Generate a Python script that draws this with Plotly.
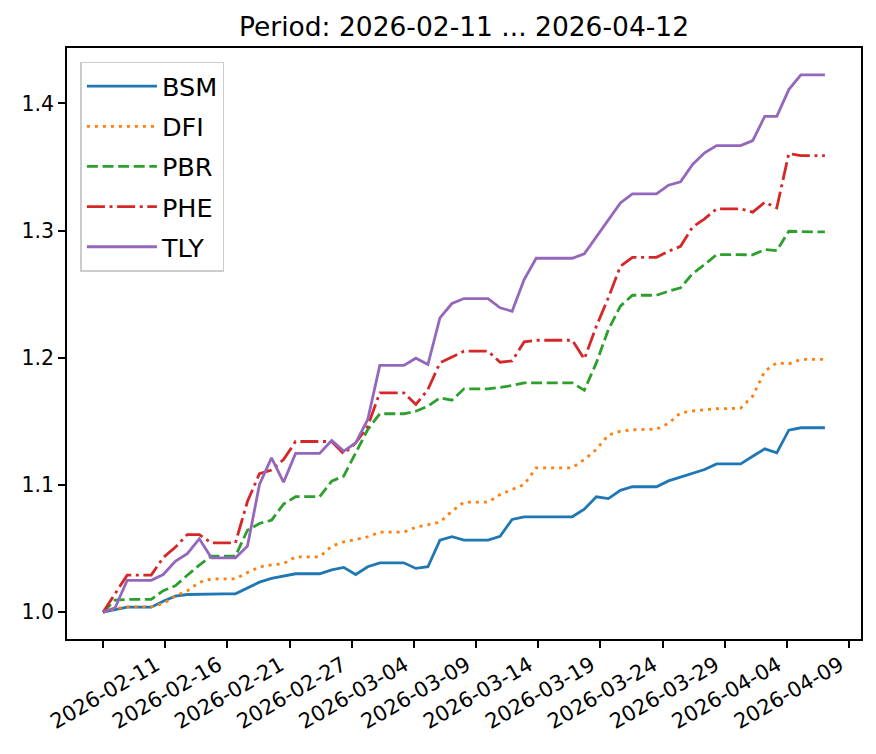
import datetime as dt
import pandas as pd
import plotly.graph_objects as go

# ---- data ----
dates = pd.date_range("2026-02-11", "2026-04-12", freq="D")

BSM = [1.000, 1.0019, 1.0039, 1.0039, 1.0039, 1.0086, 1.0126, 1.0139, 1.0142, 1.0144,
       1.0144, 1.0144, 1.0192, 1.0236, 1.0265, 1.0283, 1.0302, 1.0302, 1.0302, 1.0333,
       1.0352, 1.0296, 1.0357, 1.0388, 1.0388, 1.0388, 1.0344, 1.0357, 1.0566, 1.0593,
       1.0566, 1.0566, 1.0566, 1.0597, 1.0729, 1.075, 1.075, 1.075, 1.075, 1.075,
       1.081, 1.0907, 1.0893, 1.0958, 1.0986, 1.0986, 1.0986, 1.1032, 1.1062, 1.1089,
       1.1122, 1.1166, 1.1166, 1.1166, 1.1226, 1.1284, 1.1253, 1.1431, 1.145, 1.145, 1.145]

DFI = [1.000, 1.0027, 1.0041, 1.0041, 1.0041, 1.0068, 1.0126, 1.0168, 1.0234, 1.0262,
       1.0262, 1.0262, 1.0312, 1.0356, 1.0371, 1.0382, 1.0435, 1.0435, 1.0435, 1.0519,
       1.0553, 1.0571, 1.0593, 1.0629, 1.0629, 1.0629, 1.0668, 1.0689, 1.0708, 1.0794,
       1.0865, 1.0865, 1.0865, 1.0925, 1.0965, 1.1004, 1.1135, 1.1135, 1.1135, 1.1135,
       1.120, 1.1279, 1.1393, 1.1423, 1.1434, 1.1436, 1.1439, 1.1485, 1.1567, 1.1582,
       1.1589, 1.1600, 1.1600, 1.1605, 1.1699, 1.1895, 1.196, 1.1952, 1.1987, 1.1987, 1.1987]

PBR = [1.000, 1.0095, 1.010, 1.010, 1.010, 1.0169, 1.0207, 1.029, 1.037, 1.044,
       1.044, 1.044, 1.0645, 1.0697, 1.0723, 1.085, 1.0908, 1.0908, 1.0908, 1.103,
       1.107, 1.1253, 1.1436, 1.156, 1.156, 1.156, 1.158, 1.162, 1.1685, 1.1667,
       1.1756, 1.1756, 1.1756, 1.1767, 1.1782, 1.1803, 1.1803, 1.1803, 1.1803, 1.1803,
       1.1745, 1.196, 1.2222, 1.2406, 1.2492, 1.2492, 1.2492, 1.2524, 1.255, 1.2662,
       1.2733, 1.2812, 1.2812, 1.2812, 1.281, 1.2851, 1.2843, 1.2995, 1.299, 1.299, 1.299]

PHE = [1.000, 1.0145, 1.0291, 1.0291, 1.0291, 1.043, 1.051, 1.061, 1.061, 1.0545,
       1.0545, 1.0545, 1.087, 1.109, 1.1118, 1.120, 1.1342, 1.1342, 1.1342, 1.1342,
       1.1245, 1.1331, 1.1462, 1.1725, 1.1725, 1.1725, 1.1633, 1.175, 1.196, 1.2008,
       1.2052, 1.2052, 1.2052, 1.1965, 1.1975, 1.2125, 1.2138, 1.2138, 1.2138, 1.2138,
       1.199, 1.2248, 1.2472, 1.272, 1.279, 1.279, 1.279, 1.2838, 1.2877, 1.3028,
       1.3093, 1.3171, 1.3171, 1.3171, 1.3145, 1.3223, 1.3179, 1.3606, 1.359, 1.359, 1.359]

TLY = [1.000, 1.0035, 1.025, 1.025, 1.025, 1.0296, 1.040, 1.046, 1.0577, 1.0427,
       1.0427, 1.0427, 1.0519, 1.1004, 1.1213, 1.1022, 1.1248, 1.1248, 1.1248, 1.135,
       1.1266, 1.1331, 1.1515, 1.194, 1.194, 1.194, 1.1997, 1.1947, 1.2314, 1.2427,
       1.2466, 1.2466, 1.2466, 1.2393, 1.2366, 1.2615, 1.2783, 1.2783, 1.2783, 1.2783,
       1.2817, 1.2951, 1.3082, 1.3218, 1.3289, 1.3289, 1.3289, 1.3357, 1.3384, 1.352,
       1.3612, 1.3669, 1.3669, 1.3669, 1.3708, 1.3899, 1.3899, 1.4109, 1.4225, 1.4225, 1.4225]

tick_labels = ["2026-02-11", "2026-02-16", "2026-02-21", "2026-02-27", "2026-03-04",
               "2026-03-09", "2026-03-14", "2026-03-19", "2026-03-24", "2026-03-29",
               "2026-04-04", "2026-04-09", ""]

series = [("BSM", BSM), ("DFI", DFI), ("PBR", PBR), ("PHE", PHE), ("TLY", TLY)]
colors = ["#1f77b4", "#ff7f0e", "#2ca02c", "#d62728", "#9467bd"]
dashes = ["solid", "3px,5px", "11px,4.6px", "18px,4.6px,3px,4.6px", "solid"]

FONT = "DejaVu Sans"

fig = go.Figure()
for (name, vals), c, d in zip(series, colors, dashes):
    fig.add_trace(go.Scatter(x=dates, y=vals, name=name, mode="lines",
                             legendgroup=name,
                             line=dict(color=c, width=2.8, dash=d)))

start = dates[0]
tick_step = dt.timedelta(days=5.168)
tickvals = [start + k * tick_step for k in range(len(tick_labels))]

fig.update_layout(
    width=876, height=754,
    margin=dict(l=66.6, r=15.4, t=48.4, b=114.5, autoexpand=False),
    paper_bgcolor="white", plot_bgcolor="white",
    font=dict(family=FONT, color="black", size=20),
    title=dict(text="Period: 2026-02-11 ... 2026-04-12",
               font=dict(family=FONT, size=26.5, color="black"),
               x=0.5, xref="paper", xanchor="center",
               y=1 - 27 / 754, yref="container", yanchor="middle"),
    showlegend=True,
    legend=dict(x=0.0169, y=0.977, xanchor="left", yanchor="top",
                bgcolor="rgba(255,255,255,0.8)", bordercolor="#cccccc", borderwidth=1.5,
                font=dict(family=FONT, size=25.5, color="black"),
                itemwidth=70, tracegroupgap=4),
)

fig.update_xaxes(
    range=[start - dt.timedelta(days=3), start + dt.timedelta(days=63)],
    tickmode="array", tickvals=tickvals, ticktext=tick_labels,
    tickangle=-30, ticks="outside", ticklen=7, tickwidth=1.5, tickcolor="black",
    ticklabelshift=53, ticklabelstandoff=-3, automargin=False,
    tickfont=dict(family=FONT, size=21, color="black"),
    showline=True, linecolor="black", linewidth=1.5, mirror=True,
    showgrid=False, zeroline=False,
)
fig.update_yaxes(
    range=[0.9789, 1.4436],
    tickmode="array", tickvals=[1.0, 1.1, 1.2, 1.3, 1.4],
    ticktext=["1.0", "1.1", "1.2", "1.3", "1.4"], automargin=False,
    ticks="outside", ticklen=7, tickwidth=1.5, tickcolor="black",
    tickfont=dict(family=FONT, size=20.5, color="black"),
    showline=True, linecolor="black", linewidth=1.5, mirror=True,
    showgrid=False, zeroline=False,
)

fig.write_html("out.html", config={"displayModeBar": False},
               post_script="document.body.style.margin='0';document.body.style.overflow='hidden';")
